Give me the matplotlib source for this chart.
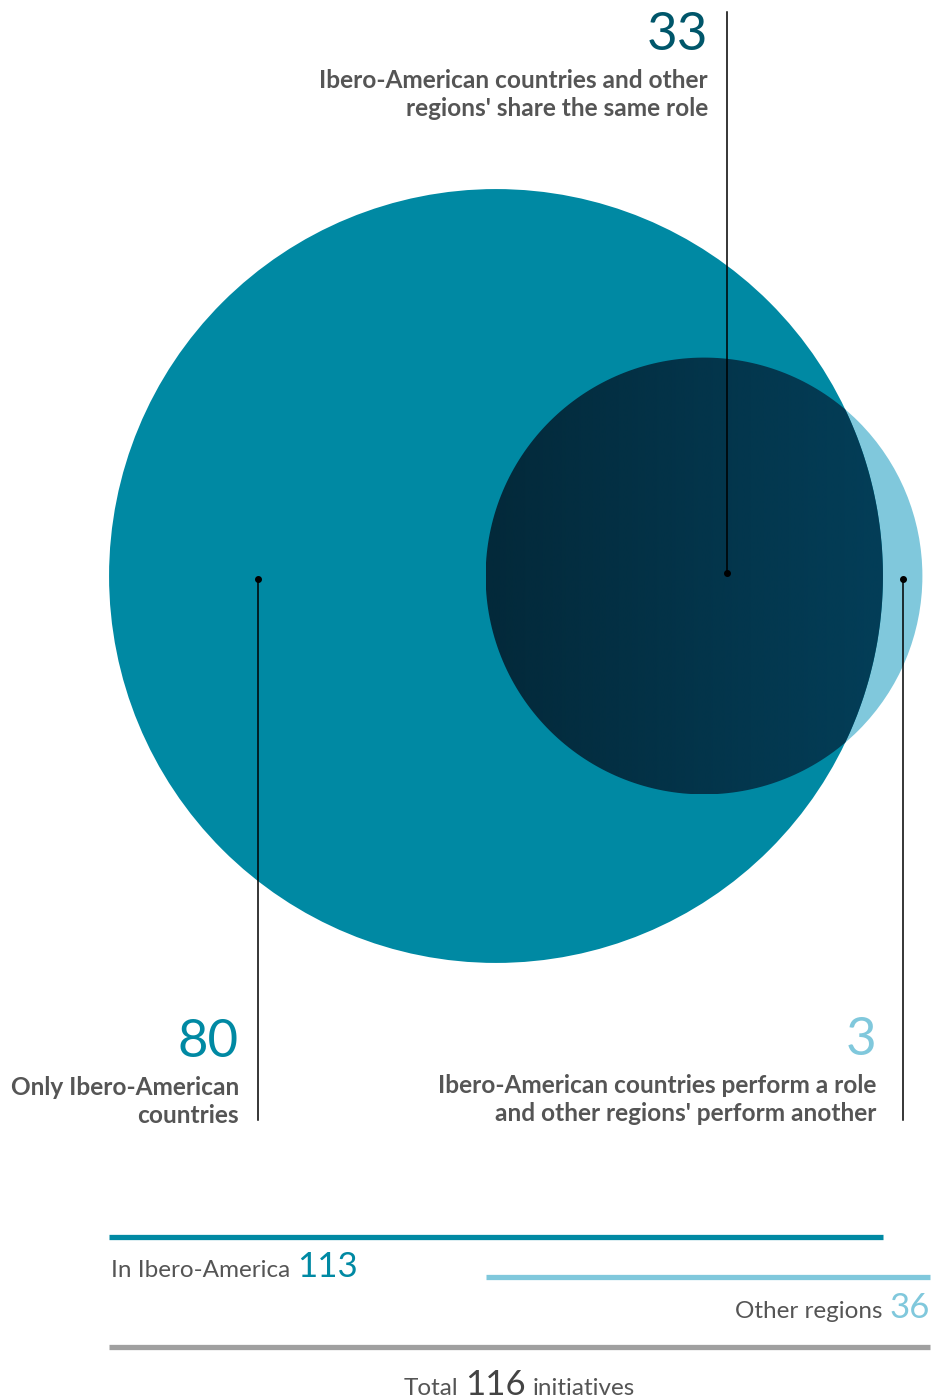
import numpy as np
import matplotlib.pyplot as plt
from matplotlib.patches import Circle, PathPatch
from matplotlib.path import Path
from matplotlib.colors import LinearSegmentedColormap

plt.rcParams['font.family'] = ['Lato', 'DejaVu Sans']

# initiatives by who takes part
only_ibero = 80
shared_role = 33
different_role = 3
in_ibero = only_ibero + shared_role          # 113
other_regions = shared_role + different_role  # 36
total = only_ibero + shared_role + different_role  # 116

labels = {
    "shared": "Ibero-American countries and other\nregions' share the same role",
    "only": "Only Ibero-American\ncountries",
    "diff": "Ibero-American countries perform a role\nand other regions' perform another",
}

TEAL = "#0089a3"
LIGHT = "#80c8dc"
DARK_L = "#03293a"
DARK_R = "#033e58"
NUM_DARK = "#00566a"
GREY = "#555555"
BAR_GREY = "#a0a0a0"

fig = plt.figure(figsize=(9.33, 14), dpi=100)
ax = fig.add_axes([0, 0, 1, 1])

# circle areas proportional to the counts
k = 36.4
R = k * np.sqrt(in_ibero)
r = k * np.sqrt(other_regions)
cy = 576
cx_big = 496
cx_small = 704

ax.add_patch(Circle((cx_small, cy), r, color=LIGHT, lw=0, zorder=1))
ax.add_patch(Circle((cx_big, cy), R, color=TEAL, lw=0, zorder=2))

# lens where both circles overlap
d = cx_small - cx_big
a = (d**2 + R**2 - r**2) / (2 * d)
h = np.sqrt(R**2 - a**2)
t1 = np.arctan2(h, a)
t2 = np.arctan2(h, a - d)
ang_big = np.linspace(-t1, t1, 200)
ang_small = np.linspace(t2, 2 * np.pi - t2, 200)
pts = np.vstack([
    np.column_stack([cx_big + R * np.cos(ang_big), cy + R * np.sin(ang_big)]),
    np.column_stack([cx_small + r * np.cos(ang_small), cy + r * np.sin(ang_small)]),
])
lens = PathPatch(Path(pts, closed=True), facecolor="none", lw=0, zorder=3)
ax.add_patch(lens)
cmap = LinearSegmentedColormap.from_list("lens", [DARK_L, DARK_R])
x0, x1 = cx_small - r, cx_big + R
img = ax.imshow(np.linspace(0, 1, 1024)[None, :], cmap=cmap, aspect="auto",
                interpolation="bilinear", extent=(x0, x1, cy + r, cy - r), zorder=3)
img.set_clip_path(lens)

ax.set_xlim(0, 933)
ax.set_ylim(1400, 0)
ax.axis("off")

# leader lines with dots
leaders = [(727, 12, 573), (258, 579, 1120), (903, 579, 1120)]
for lx, ya, yb in leaders:
    ax.plot([lx, lx], [ya, yb], color="black", lw=1.1, zorder=5)
dots = [(727, 573), (258, 579), (903, 579)]
for px, py in dots:
    ax.plot(px, py, "o", color="black", ms=4, zorder=6)

# annotations
num_kw = dict(fontsize=38, ha="right", va="baseline", zorder=7)
lab_kw = dict(fontsize=17.6, ha="right", va="baseline", fontweight="bold",
              color=GREY, linespacing=1.25, zorder=7)
ax.text(708, 50, str(shared_role), color=NUM_DARK, **num_kw)
ax.text(708, 116, labels["shared"], **lab_kw)
ax.text(239, 1057, str(only_ibero), color=TEAL, **num_kw)
ax.text(239, 1123, labels["only"], **lab_kw)
ax.text(876, 1055, str(different_role), color=LIGHT, **num_kw)
ax.text(876, 1121, labels["diff"], **lab_kw)

# bars spanning the circles
ax.plot([cx_big - R, cx_big + R], [1237, 1237], color=TEAL, lw=3.8, solid_capstyle="butt")
ax.plot([cx_small - r, 930], [1277, 1277], color=LIGHT, lw=3.8, solid_capstyle="butt")
ax.plot([cx_big - R, 930], [1347, 1347], color=BAR_GREY, lw=3.8, solid_capstyle="butt")

fig.canvas.draw()
rend = fig.canvas.get_renderer()
inv = ax.transData.inverted()


def run_text(x, y, parts, ha="left"):
    # lay out differently styled pieces one after another on a baseline
    arts = []
    for s, col, size in parts:
        arts.append(ax.text(0, y, s, color=col, fontsize=size, va="baseline", zorder=7))
    widths = []
    for t in arts:
        bb = t.get_window_extent(rend)
        p0 = inv.transform((bb.x0, 0))[0]
        p1 = inv.transform((bb.x1, 0))[0]
        widths.append(p1 - p0)
    gap = 7
    totw = sum(widths) + gap * (len(arts) - 1)
    if ha == "right":
        x = x - totw
    elif ha == "center":
        x = x - totw / 2
    for t, w in zip(arts, widths):
        t.set_x(x)
        x += w + gap


run_text(111, 1277, [("In Ibero-America", GREY, 17.5), (str(in_ibero), TEAL, 25)])
run_text(930, 1318, [("Other regions", GREY, 17.5), (str(other_regions), LIGHT, 25)], ha="right")
run_text(519, 1395, [("Total", GREY, 17.5), (str(total), "#444444", 25), ("initiatives", GREY, 17.5)],
         ha="center")

fig.savefig("out.png", dpi=100)
